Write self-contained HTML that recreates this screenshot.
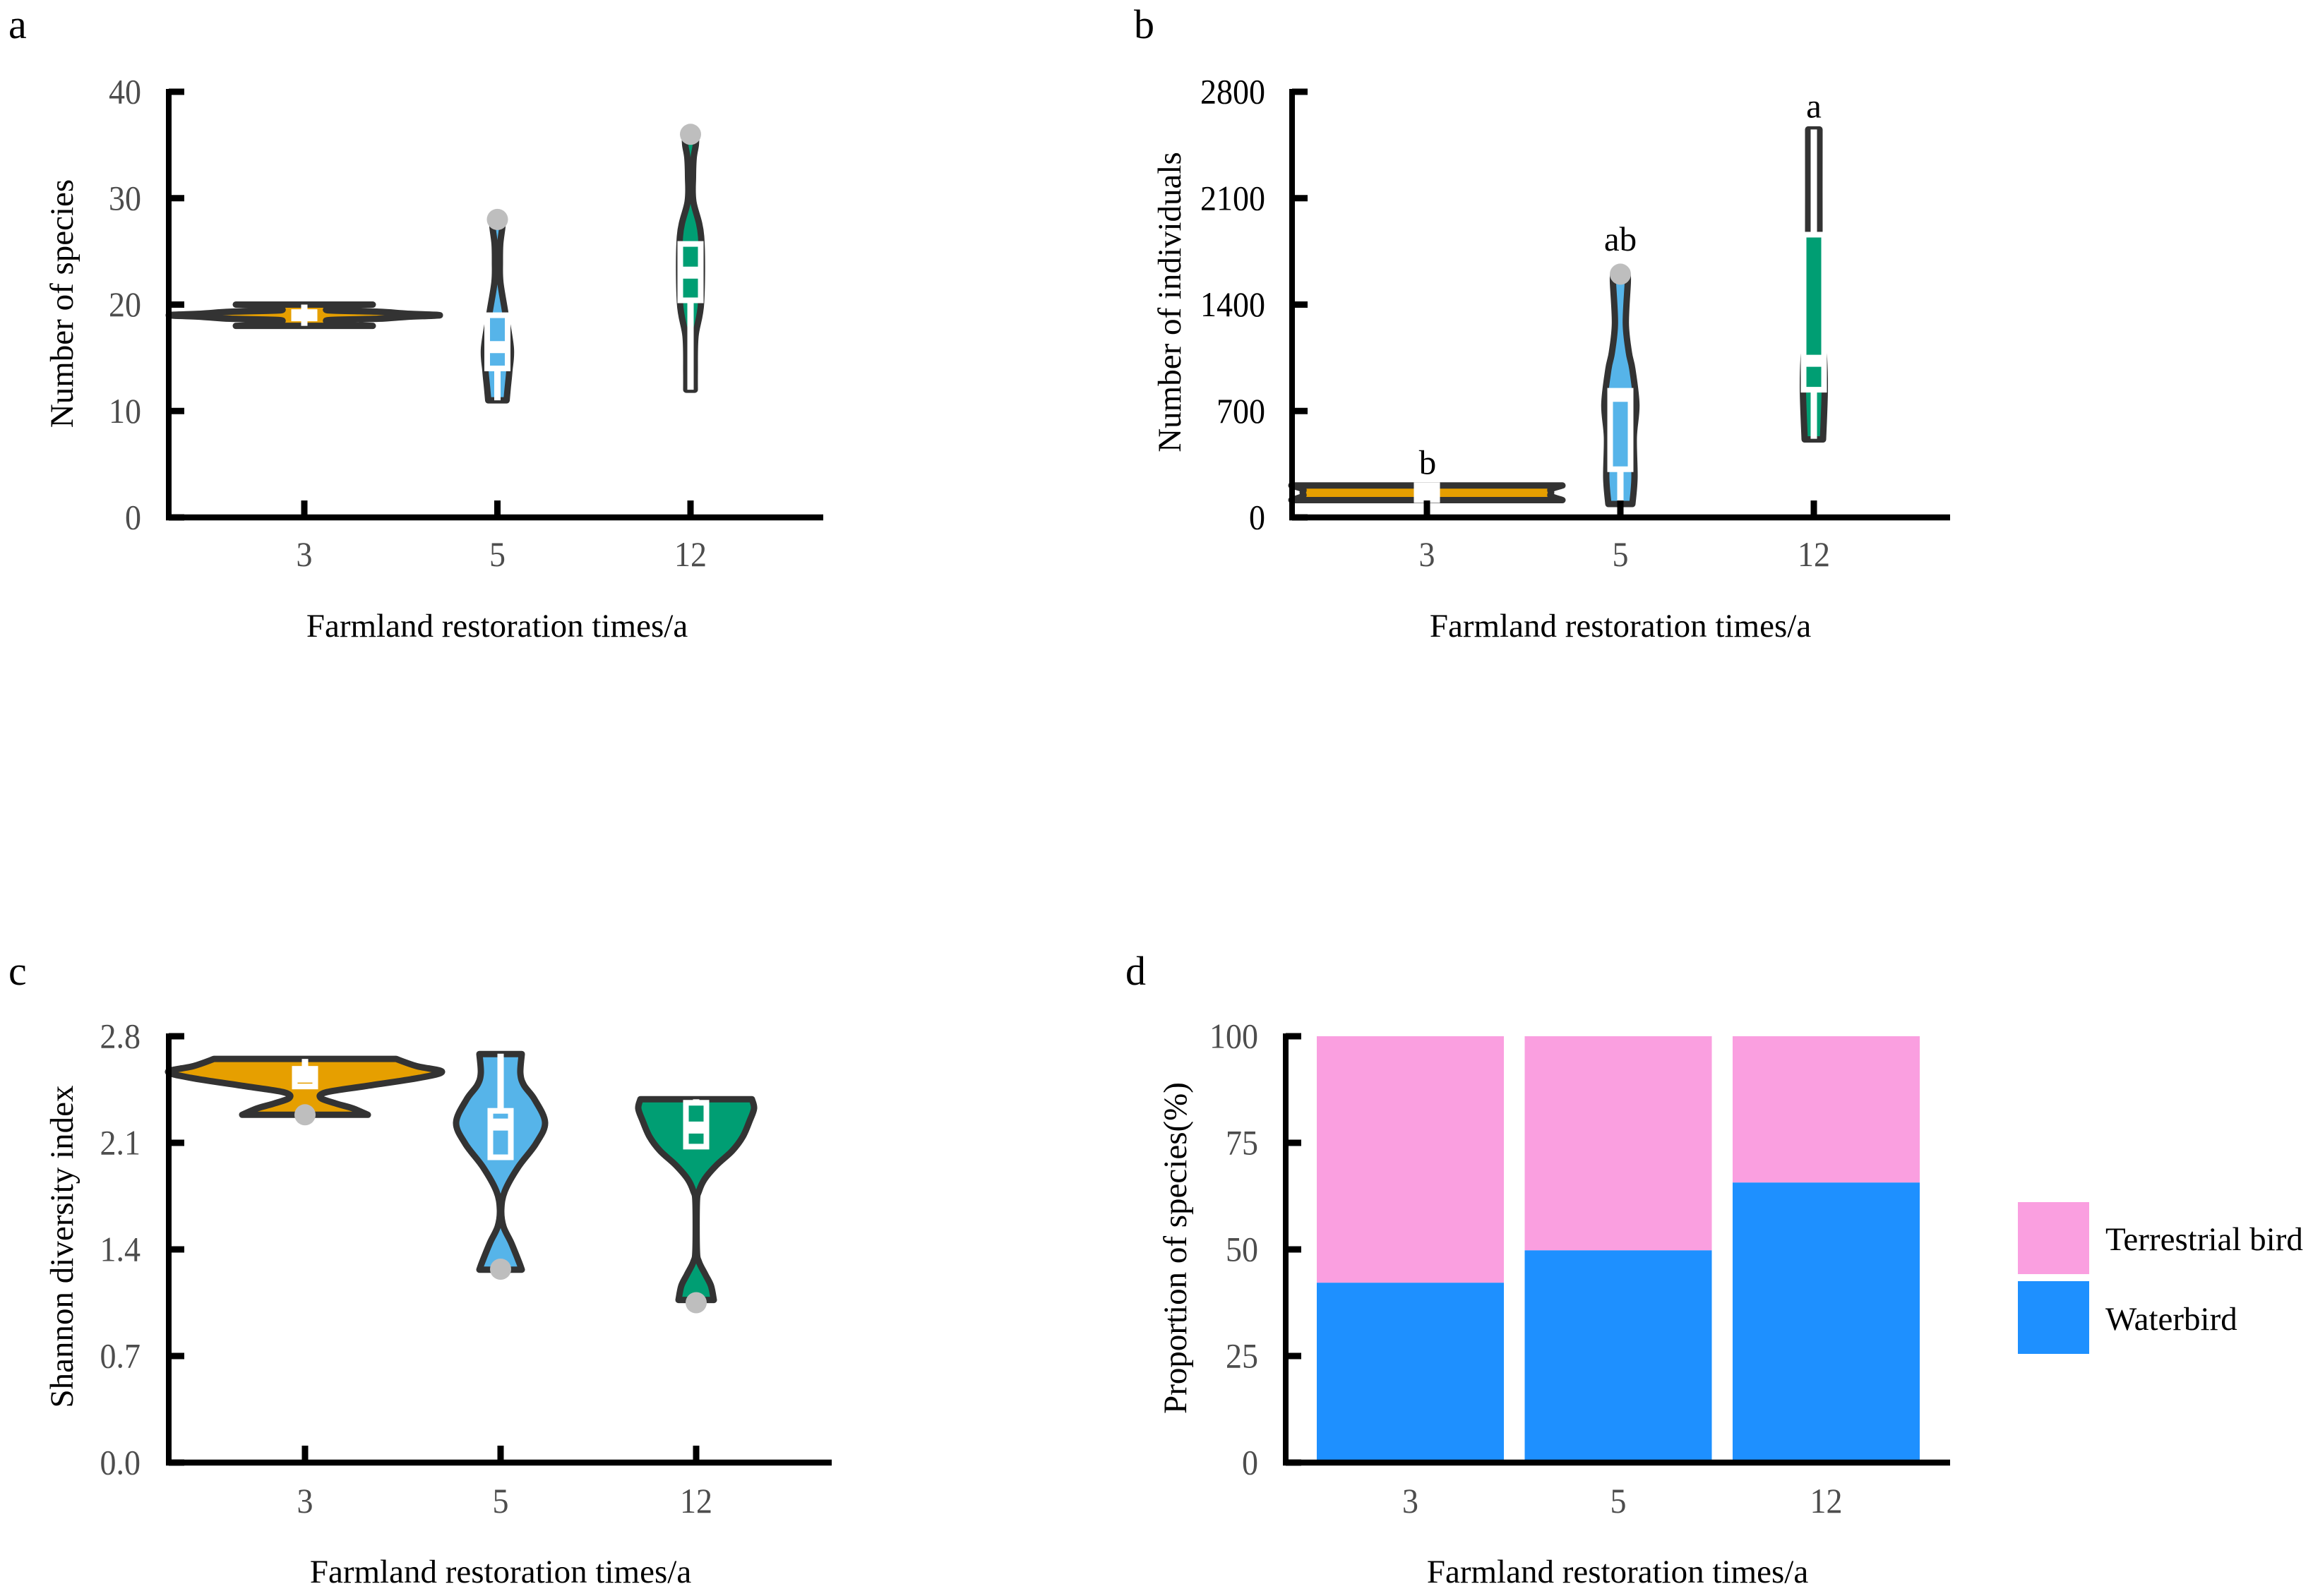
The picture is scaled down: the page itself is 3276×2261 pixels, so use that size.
<!DOCTYPE html>
<html lang="en">
<head>
<meta charset="utf-8">
<title>Bird community metrics by farmland restoration time</title>
<style>
html,body{margin:0;padding:0;background:#fff;}
svg{display:block;}
text{font-family:"Liberation Serif",serif;}
.title{font-size:47px;fill:#000;}
.tick{font-size:46px;fill:#4d4d4d;}
.panel{font-size:58px;fill:#000;}
</style>
</head>
<body>
<svg id="figure" xmlns="http://www.w3.org/2000/svg" width="3276" height="2261" viewBox="0 0 3276 2261">
  <rect width="3276" height="2261" fill="#ffffff"/>
  <text class="panel" x="12" y="54">a</text>
  <text class="panel" x="1606" y="54">b</text>
  <text class="panel" x="12" y="1395">c</text>
  <text class="panel" x="1594" y="1395">d</text>

  <text class="title" x="704" y="902" text-anchor="middle">Farmland restoration times/a</text>
  <text class="title" x="2295" y="902" text-anchor="middle">Farmland restoration times/a</text>
  <text class="title" x="709" y="2242" text-anchor="middle">Farmland restoration times/a</text>
  <text class="title" x="2291" y="2242" text-anchor="middle">Farmland restoration times/a</text>

  <text class="title" text-anchor="middle" transform="translate(103,430) rotate(-90)">Number of species</text>
  <text class="title" text-anchor="middle" transform="translate(1672,428) rotate(-90)">Number of individuals</text>
  <text class="title" text-anchor="middle" transform="translate(103,1766) rotate(-90)">Shannon diversity index</text>
  <text class="title" text-anchor="middle" transform="translate(1680,1768) rotate(-90)">Proportion of species(%)</text>

  <rect x="2858" y="1703" width="101" height="102" fill="#FA9FE0"/>
  <rect x="2858" y="1815" width="101" height="103" fill="#1E90FF"/>
  <text class="title" x="2982" y="1771">Terrestrial bird</text>
  <text class="title" x="2982" y="1884">Waterbird</text>
</svg>

<script>
// ---------- shared data ----------
const categories = ['3', '5', '12'];
const violinColors = ['#E69F00', '#56B4E9', '#009E73'];

// ---------- panel a: number of species ----------
const aTicks = [0, 10, 20, 30, 40];
const aLevels3 = [20, 19.9, 19.75, 19.65, 19.45, 19.33, 19.15, 19, 18.85, 18.67, 18.55, 18.35, 18.25, 18.1, 18];
const aDensity3 = [0.97, 0.6, 0.4, 0.36, 0.36, 1.05, 1.45, 1.92, 1.45, 1.05, 0.36, 0.36, 0.4, 0.6, 0.97];
const aLevels5 = [28, 27.3, 25.7, 24, 22.1, 19.3, 15.9, 13.8, 12.1, 11];
const aDensity5 = [0.07, 0.07, 0.04, 0.035, 0.042, 0.11, 0.19, 0.17, 0.145, 0.13];
const aLevels12 = [36, 35, 33.8, 32, 29.7, 26.4, 20.2, 17, 13.7, 12];
const aDensity12 = [0.08, 0.075, 0.045, 0.035, 0.04, 0.15, 0.15, 0.07, 0.06, 0.06];
const aQ1 = [19, 14, 20.4];
const aMedian = [19, 16, 23];
const aQ3 = [19, 19, 25.7];
const aWhiskerLow = [18, 11, 12];
const aWhiskerHigh = [20, 19, 25.7];
const aOutlier = [null, 28, 36];

// ---------- panel b: number of individuals ----------
const bTicks = [0, 700, 1400, 2100, 2800];
const bLevels3 = [210, 186, 163, 140, 114];
const bDensity3 = [1.92, 1.76, 1.76, 1.76, 1.92];
const bLevels5 = [1600, 1546, 1277, 1086, 974, 741, 527, 261, 88];
const bDensity5 = [0.1, 0.105, 0.077, 0.12, 0.17, 0.227, 0.19, 0.2, 0.17];
const bLevels12 = [2552, 1860, 1270, 1080, 840, 513];
const bDensity12 = [0.08, 0.08, 0.09, 0.14, 0.155, 0.13];
const bQ1 = [114, 317, 840];
const bMedian = [160, 800, 1030];
const bQ3 = [212, 833, 1860];
const bWhiskerLow = [114, 98, 517];
const bWhiskerHigh = [212, 833, 2552];
const bOutlier = [null, 1600, null];
const bSignificance = ['b', 'ab', 'a'];
const bSignificanceAt = [285, 1755, 2630];

// ---------- panel c: Shannon diversity ----------
const cTicks = ['0.0', '0.7', '1.4', '2.1', '2.8'];
const cLevels3 = [2.651, 2.604, 2.567, 2.526, 2.474, 2.433, 2.396, 2.358, 2.326, 2.284];
const cDensity3 = [1.29, 1.58, 1.94, 1.61, 0.88, 0.31, 0.22, 0.44, 0.68, 0.89];
const cLevels5 = [2.683, 2.558, 2.479, 2.386, 2.233, 2.094, 1.941, 1.783, 1.662, 1.551, 1.444, 1.318, 1.267];
const cDensity5 = [0.3, 0.28, 0.33, 0.48, 0.63, 0.5, 0.25, 0.06, 0.01, 0.04, 0.15, 0.26, 0.3];
const cLevels12 = [2.386, 2.326, 2.247, 2.14, 2.047, 1.954, 1.862, 1.783, 1.708, 1.397, 1.318, 1.235, 1.161, 1.068];
const cDensity12 = [0.79, 0.82, 0.76, 0.66, 0.51, 0.29, 0.12, 0.04, 0.01, 0.01, 0.04, 0.13, 0.21, 0.25];
const cQ1 = [2.47, 2.005, 2.075];
const cMedian = [2.535, 2.22, 2.2];
const cQ3 = [2.586, 2.31, 2.363];
const cWhiskerLow = [2.47, 2.005, 2.075];
const cWhiskerHigh = [2.651, 2.685, 2.386];
const cOutlier = [2.284, 1.27, 1.05];

// ---------- panel d: proportion of species ----------
const dTicks = [0, 25, 50, 75, 100];
const dWaterbird = [42.2, 49.8, 65.7];
const dTerrestrial = [57.8, 50.2, 34.3];

// ---------- helpers ----------
const NS = 'http://www.w3.org/2000/svg';
const figure = document.getElementById('figure');

function make(tag, attrs) {
  const el = document.createElementNS(NS, tag);
  for (const k in attrs) el.setAttribute(k, attrs[k]);
  return el;
}

function drawFrame(frame, panel, tickValues, tickLabels, yScale, xScale, tickColor) {
  const group = make('g', {});
  
  

  const yAxis = make('line', {x1: frame.left, x2: frame.left, y1: yScale(tickValues[tickValues.length - 1]) - 4, y2: frame.bottom + 4, stroke: '#000', 'stroke-width': 8});
  
  
  group.appendChild(yAxis);

  const xAxis = make('line', {x1: frame.left - 4, x2: frame.right, y1: frame.bottom, y2: frame.bottom, stroke: '#000', 'stroke-width': 8.5});
  
  
  group.appendChild(xAxis);

  tickValues.forEach(function (v, i) {
    const y = yScale(v);
    const tick = make('line', {x1: frame.left, x2: frame.left + 22, y1: y, y2: y, stroke: '#000', 'stroke-width': 9});
    
    
    group.appendChild(tick);
    const label = make('text', {transform: 'translate(' + frame.labelRight + ',' + (y + 16.5) + ') scale(1,1.07)', 'text-anchor': 'end', 'class': 'tick'});
    label.style.fill = tickColor;
    
    
    label.textContent = tickLabels[i];
    group.appendChild(label);
  });

  categories.forEach(function (c, i) {
    const x = xScale(i);
    if (!frame.hideXTicks) {
      const tick = make('line', {x1: x, x2: x, y1: frame.bottom - 24, y2: frame.bottom, stroke: '#000', 'stroke-width': 9});
      
      
      group.appendChild(tick);
    }
    const label = make('text', {transform: 'translate(' + x + ',' + (frame.bottom + frame.labelDrop) + ') scale(1,1.07)', 'text-anchor': 'middle', 'class': 'tick'});
    
    
    label.textContent = c;
    group.appendChild(label);
  });
  return group;
}

function smoothSide(points) {
  let d = '';
  for (let i = 0; i < points.length - 1; i++) {
    const p0 = points[Math.max(i - 1, 0)];
    const p1 = points[i];
    const p2 = points[i + 1];
    const p3 = points[Math.min(i + 2, points.length - 1)];
    const c1x = p1[0] + (p2[0] - p0[0]) / 6;
    const c1y = p1[1] + (p2[1] - p0[1]) / 6;
    const c2x = p2[0] - (p3[0] - p1[0]) / 6;
    const c2y = p2[1] - (p3[1] - p1[1]) / 6;
    d += ' C' + c1x + ' ' + c1y + ' ' + c2x + ' ' + c2y + ' ' + p2[0] + ' ' + p2[1];
  }
  return d;
}

function violinPath(levels, density, cx, yScale) {
  const right = levels.map(function (v, i) { return [cx + density[i] * 100, yScale(v)]; });
  const left = levels.map(function (v, i) { return [cx - density[i] * 100, yScale(v)]; }).reverse();
  return 'M' + right[0][0] + ' ' + right[0][1] + smoothSide(right) +
    ' L' + left[0][0] + ' ' + left[0][1] + smoothSide(left) + ' Z';
}

function drawViolin(panel, i, levels, density, stats, yScale, xScale) {
  const cx = xScale(i);
  const group = make('g', {});
  
  

  const shape = make('path', {d: violinPath(levels, density, cx, yScale), fill: violinColors[i], stroke: '#333333', 'stroke-width': 9, 'stroke-linejoin': 'round'});
  
  
  group.appendChild(shape);

  const upper = make('line', {x1: cx, x2: cx, y1: yScale(stats.high[i]), y2: yScale(stats.q3[i]), stroke: '#fff', 'stroke-width': 9});
  
  
  group.appendChild(upper);

  const lower = make('line', {x1: cx, x2: cx, y1: yScale(stats.q1[i]), y2: yScale(stats.low[i]), stroke: '#fff', 'stroke-width': 9});
  
  
  group.appendChild(lower);

  const yTop = yScale(stats.q3[i]);
  const yBot = yScale(stats.q1[i]);
  const box = make('rect', {x: cx - 14.5, y: yTop, width: 29, height: Math.max(yBot - yTop, 0.01), fill: violinColors[i], stroke: '#fff', 'stroke-width': 8});
  
  
  group.appendChild(box);

  const median = make('line', {x1: cx - 18.5, x2: cx + 18.5, y1: yScale(stats.med[i]), y2: yScale(stats.med[i]), stroke: '#fff', 'stroke-width': 17});
  
  
  group.appendChild(median);

  if (stats.outlier[i] !== null) {
    const point = make('circle', {cx: cx, cy: yScale(stats.outlier[i]), r: 15, fill: '#BEBEBE'});
    
    
    group.appendChild(point);
  }
  return group;
}

function drawViolinPanel(panel, frame, tickValues, tickLabels, yMax, series, stats, tickColor) {
  const yScale = function (v) { return frame.bottom - (v / yMax) * frame.height; };
  const xScale = function (i) { return frame.first + i * frame.step; };
  series.forEach(function (s, i) {
    figure.appendChild(drawViolin(panel, i, s[0], s[1], stats, yScale, xScale));
  });
  figure.appendChild(drawFrame(frame, panel, tickValues, tickLabels, yScale, xScale, tickColor));
  return {yScale: yScale, xScale: xScale};
}

// ---------- build panels ----------
drawViolinPanel('a',
  {left: 239, right: 1166, bottom: 733, height: 603, first: 431, step: 273.5, labelRight: 200, labelDrop: 69},
  aTicks, aTicks.map(String), 40,
  [[aLevels3, aDensity3], [aLevels5, aDensity5], [aLevels12, aDensity12]],
  {q1: aQ1, med: aMedian, q3: aQ3, low: aWhiskerLow, high: aWhiskerHigh, outlier: aOutlier}, '#4d4d4d');

const panelB = drawViolinPanel('b',
  {left: 1830, right: 2762, bottom: 733, height: 603, first: 2021, step: 274, labelRight: 1792, labelDrop: 69},
  bTicks, bTicks.map(String), 2800,
  [[bLevels3, bDensity3], [bLevels5, bDensity5], [bLevels12, bDensity12]],
  {q1: bQ1, med: bMedian, q3: bQ3, low: bWhiskerLow, high: bWhiskerHigh, outlier: bOutlier}, '#000000');

bSignificance.forEach(function (s, i) {
  const label = make('text', {x: panelB.xScale(i) + (i === 0 ? 1 : 0), y: panelB.yScale(bSignificanceAt[i]), 'text-anchor': 'middle', 'font-size': 49, fill: '#000'});
  
  
  label.textContent = s;
  figure.appendChild(label);
});

drawViolinPanel('c',
  {left: 239, right: 1178, bottom: 2072, height: 604, first: 432, step: 277, labelRight: 199, labelDrop: 71},
  cTicks.map(Number), cTicks, 2.8,
  [[cLevels3, cDensity3], [cLevels5, cDensity5], [cLevels12, cDensity12]],
  {q1: cQ1, med: cMedian, q3: cQ3, low: cWhiskerLow, high: cWhiskerHigh, outlier: cOutlier}, '#4d4d4d');

// stacked bars (panel d)
const dFrame = {left: 1821, right: 2762, bottom: 2072, height: 604, labelRight: 1782, labelDrop: 71, hideXTicks: true};
const dY = function (v) { return dFrame.bottom - (v / 100) * dFrame.height; };
const dX = function (i) { return 1997.5 + i * 294.5; };
const dBarHalf = 132.5;
categories.forEach(function (c, i) {
  const water = make('rect', {x: dX(i) - dBarHalf, width: dBarHalf * 2, y: dY(dWaterbird[i]), height: dFrame.bottom - dY(dWaterbird[i]), fill: '#1E90FF'});
  
  
  figure.appendChild(water);
  const land = make('rect', {x: dX(i) - dBarHalf, width: dBarHalf * 2, y: dY(dWaterbird[i] + dTerrestrial[i]), height: dY(dWaterbird[i]) - dY(dWaterbird[i] + dTerrestrial[i]), fill: '#FA9FE0'});
  
  
  figure.appendChild(land);
});
figure.appendChild(drawFrame(dFrame, 'd', dTicks, dTicks.map(String), dY, dX, '#4d4d4d'));
</script>
</body>
</html>
